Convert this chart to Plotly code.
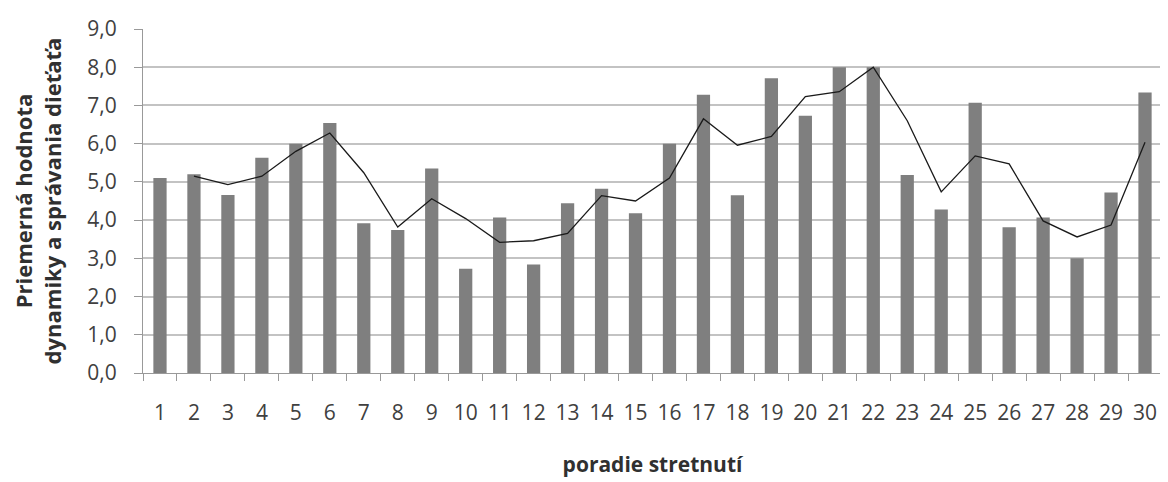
import plotly.graph_objects as go

categories = [str(i) for i in range(1, 31)]
bar_values = [5.1, 5.2, 4.66, 5.63, 6.0, 6.54, 3.92, 3.74, 5.35, 2.73,
              4.07, 2.84, 4.44, 4.82, 4.18, 6.0, 7.28, 4.65, 7.71, 6.73,
              8.0, 8.0, 5.18, 4.28, 7.07, 3.81, 4.07, 3.0, 4.72, 7.34]
trend_categories = [str(i) for i in range(2, 31)]
trend_values = [5.15, 4.93, 5.15, 5.8, 6.28, 5.24, 3.82, 4.56, 4.04, 3.42,
                3.46, 3.65, 4.64, 4.5, 5.1, 6.65, 5.96, 6.19, 7.23, 7.36,
                8.0, 6.6, 4.74, 5.68, 5.47, 3.98, 3.56, 3.87, 6.04]
y_ticks = [0, 1, 2, 3, 4, 5, 6, 7, 8, 9]

FONT = "Open Sans"

fig = go.Figure()
fig.add_trace(go.Bar(x=categories, y=bar_values, marker_color="#7f7f7f",
                     marker_line_width=0, showlegend=False))
fig.add_trace(go.Scatter(x=trend_categories, y=trend_values, mode="lines",
                         line=dict(color="#1a1a1a", width=1.3), showlegend=False))

# page body adds an 8px margin; figure sized to compensate
fig.update_layout(
    width=1160, height=474,
    margin=dict(l=135, r=6, t=16, b=109),
    paper_bgcolor="white", plot_bgcolor="white",
    bargap=0.61,
    separators=", ",
    font=dict(family=FONT, color="#404040"),
)
fig.update_xaxes(
    type="category",
    tickson="boundaries",
    ticks="outside", ticklen=7, tickcolor="#999999", tickwidth=1,
    showline=True, linecolor="#999999", linewidth=1,
    showgrid=False,
    tickfont=dict(size=21, family=FONT, color="#404040"),
    ticklabelstandoff=21,
    title=dict(text="<b>poradie stretnutí</b>", font=dict(size=21, family=FONT, color="#303030"),
               standoff=32),
)
fig.update_yaxes(
    range=[0, 9],
    tickvals=y_ticks, tickformat=".1f",
    ticks="outside", ticklen=8, tickcolor="#999999", tickwidth=1,
    showline=True, linecolor="#999999", linewidth=1,
    showgrid=True, gridcolor="#c3c3c3", gridwidth=2,
    zeroline=False,
    tickfont=dict(size=21, family=FONT, color="#404040"),
    ticklabelstandoff=13,
    title=dict(text="<b>Priemerná hodnota<br>dynamiky a správania dieťaťa</b>",
               font=dict(size=22, family=FONT, color="#303030"), standoff=25),
)

fig.write_html("out.html")
